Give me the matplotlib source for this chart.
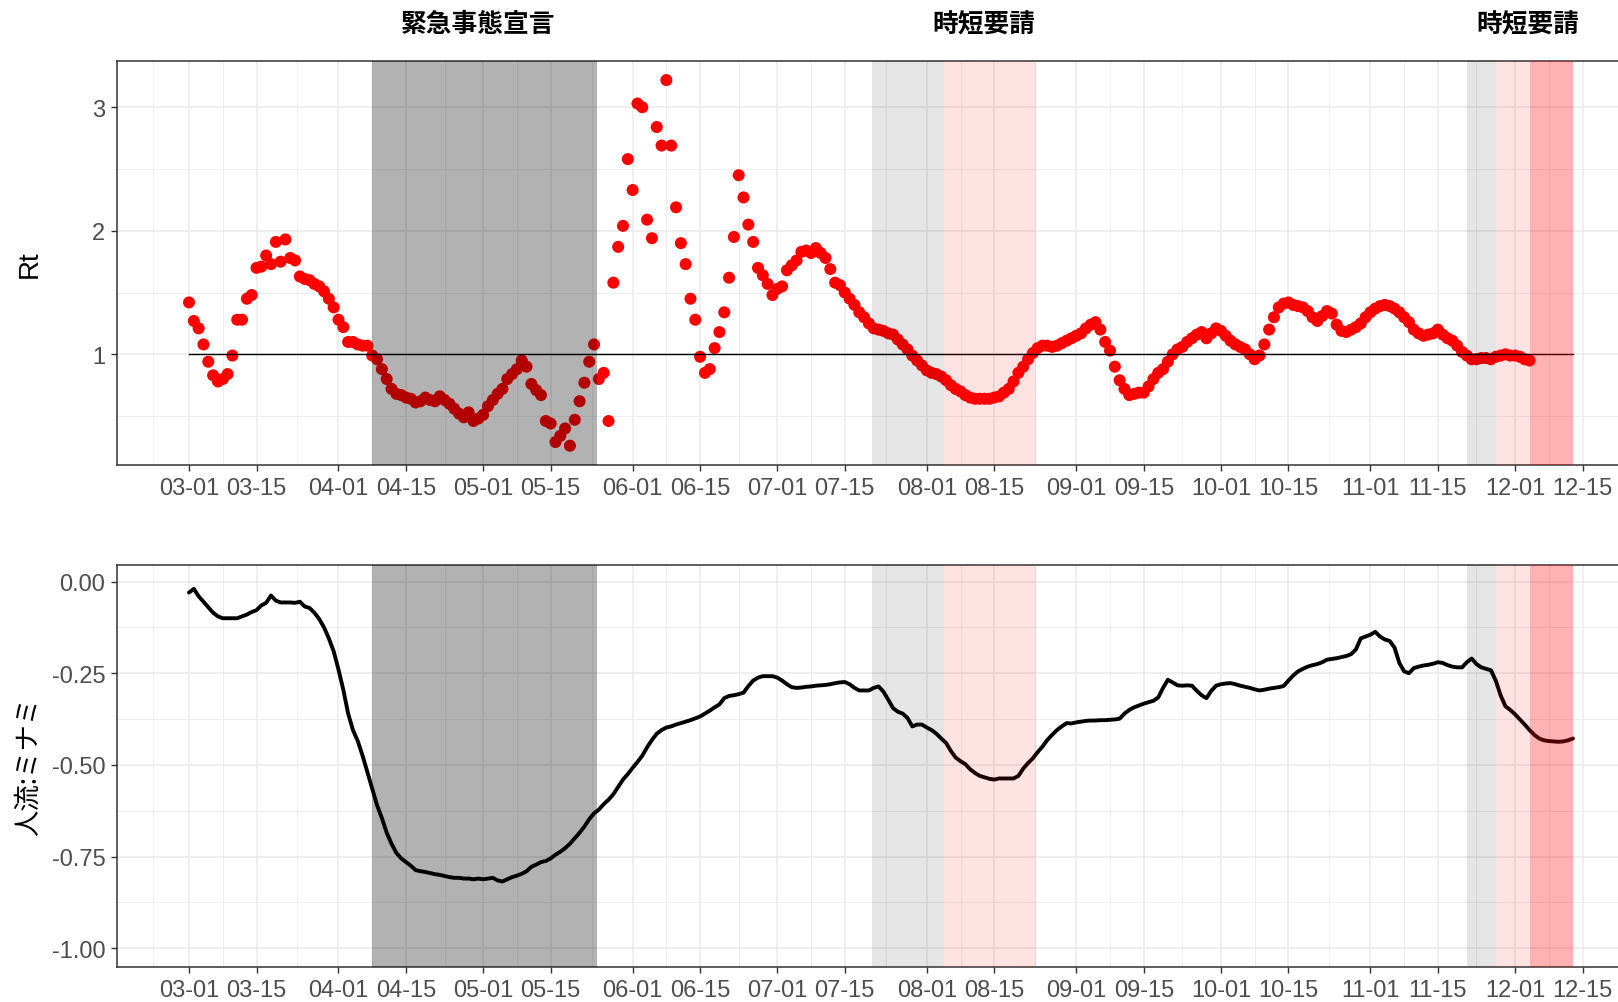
import numpy as np
import pandas as pd
import matplotlib
matplotlib.use("Agg")
import matplotlib.pyplot as plt
import matplotlib.dates as mdates
from matplotlib.ticker import FixedLocator, FormatStrFormatter

plt.rcParams['font.family'] = ['Liberation Sans', 'Noto Sans CJK JP', 'DejaVu Sans']
plt.rcParams['axes.unicode_minus'] = False

# daily series, first day 2020-03-01
start = "2020-03-01"

rt = [
    1.42, 1.27, 1.21, 1.08, 0.94, 0.83, 0.78, 0.80, 0.84, 0.99,
    1.28, 1.28, 1.45, 1.48, 1.70, 1.71, 1.80, 1.73, 1.91, 1.75,
    1.93, 1.78, 1.76, 1.63, 1.61, 1.60, 1.57, 1.55, 1.51, 1.45,
    1.38, 1.28, 1.22, 1.10, 1.10, 1.08, 1.07, 1.07, 0.99, 0.96,
    0.88, 0.80, 0.72, 0.68, 0.67, 0.65, 0.64, 0.61, 0.62, 0.65,
    0.63, 0.62, 0.66, 0.63, 0.60, 0.56, 0.52, 0.49, 0.53, 0.46,
    0.48, 0.51, 0.58, 0.63, 0.68, 0.72, 0.80, 0.84, 0.88, 0.95,
    0.90, 0.76, 0.71, 0.67, 0.46, 0.44, 0.29, 0.34, 0.40, 0.26,
    0.47, 0.62, 0.77, 0.94, 1.08, 0.80, 0.85, 0.46, 1.58, 1.87,
    2.04, 2.58, 2.33, 3.03, 3.00, 2.09, 1.94, 2.84, 2.69, 3.22,
    2.69, 2.19, 1.90, 1.73, 1.45, 1.28, 0.98, 0.85, 0.88, 1.05,
    1.18, 1.34, 1.62, 1.95, 2.45, 2.27, 2.05, 1.91, 1.70, 1.64,
    1.57, 1.48, 1.53, 1.55, 1.68, 1.72, 1.76, 1.83, 1.84, 1.82,
    1.86, 1.82, 1.78, 1.69, 1.58, 1.56, 1.50, 1.45, 1.40, 1.34,
    1.30, 1.25, 1.21, 1.20, 1.19, 1.17, 1.16, 1.12, 1.08, 1.04,
    0.99, 0.95, 0.91, 0.87, 0.85, 0.84, 0.82, 0.79, 0.75, 0.72,
    0.70, 0.67, 0.65, 0.64, 0.64, 0.64, 0.64, 0.65, 0.66, 0.69,
    0.72, 0.78, 0.85, 0.90, 0.96, 1.01, 1.05, 1.07, 1.07, 1.06,
    1.07, 1.09, 1.11, 1.13, 1.15, 1.17, 1.21, 1.24, 1.26, 1.20,
    1.10, 1.03, 0.90, 0.79, 0.72, 0.67, 0.68, 0.69, 0.69, 0.74,
    0.80, 0.85, 0.88, 0.94, 1.00, 1.04, 1.06, 1.10, 1.13, 1.16,
    1.18, 1.13, 1.17, 1.21, 1.19, 1.15, 1.11, 1.08, 1.06, 1.04,
    1.00, 0.96, 0.99, 1.08, 1.20, 1.30, 1.38, 1.41, 1.42, 1.40,
    1.39, 1.38, 1.35, 1.30, 1.27, 1.31, 1.35, 1.33, 1.24, 1.19,
    1.18, 1.20, 1.22, 1.25, 1.30, 1.34, 1.37, 1.39, 1.40, 1.39,
    1.37, 1.34, 1.30, 1.26, 1.20, 1.17, 1.15, 1.16, 1.17, 1.20,
    1.16, 1.13, 1.11, 1.07, 1.02, 0.99, 0.96, 0.96, 0.97, 0.97,
    0.96, 0.98, 0.99, 1.00, 0.99, 0.99, 0.98, 0.96, 0.95,
]

mobility = [
    -0.030, -0.020, -0.040, -0.055, -0.070, -0.085, -0.095, -0.100, -0.100, -0.100,
    -0.100, -0.095, -0.090, -0.083, -0.078, -0.065, -0.058, -0.038, -0.052, -0.057,
    -0.057, -0.057, -0.058, -0.055, -0.068, -0.072, -0.085, -0.102, -0.125, -0.155,
    -0.190, -0.240, -0.295, -0.360, -0.405, -0.435, -0.475, -0.520, -0.565, -0.610,
    -0.645, -0.685, -0.715, -0.740, -0.755, -0.765, -0.775, -0.787, -0.790, -0.792,
    -0.795, -0.798, -0.800, -0.803, -0.806, -0.808, -0.808, -0.810, -0.810, -0.812,
    -0.810, -0.812, -0.810, -0.808, -0.815, -0.818, -0.812, -0.806, -0.802, -0.797,
    -0.790, -0.778, -0.772, -0.765, -0.762, -0.755, -0.745, -0.737, -0.727, -0.715,
    -0.700, -0.685, -0.668, -0.648, -0.632, -0.622, -0.607, -0.595, -0.580, -0.560,
    -0.540, -0.525, -0.508, -0.492, -0.475, -0.452, -0.432, -0.415, -0.405, -0.398,
    -0.395, -0.390, -0.386, -0.382, -0.378, -0.373, -0.368, -0.360, -0.352, -0.343,
    -0.335, -0.318, -0.312, -0.310, -0.307, -0.303, -0.285, -0.270, -0.262, -0.258,
    -0.258, -0.258, -0.262, -0.270, -0.280, -0.288, -0.290, -0.289, -0.287, -0.286,
    -0.284, -0.283, -0.282, -0.280, -0.277, -0.275, -0.274, -0.280, -0.290, -0.297,
    -0.297, -0.297, -0.290, -0.286, -0.300, -0.322, -0.345, -0.355, -0.360, -0.372,
    -0.395, -0.390, -0.390, -0.398, -0.405, -0.415, -0.428, -0.440, -0.462, -0.480,
    -0.490, -0.498, -0.512, -0.522, -0.530, -0.534, -0.538, -0.540, -0.537, -0.537,
    -0.537, -0.537, -0.530, -0.510, -0.495, -0.482, -0.465, -0.450, -0.432, -0.418,
    -0.405, -0.395, -0.386, -0.387, -0.384, -0.382, -0.380, -0.379, -0.379, -0.378,
    -0.378, -0.377, -0.376, -0.374, -0.360, -0.350, -0.343, -0.338, -0.333, -0.329,
    -0.325, -0.316, -0.290, -0.268, -0.275, -0.283, -0.284, -0.283, -0.284, -0.298,
    -0.310, -0.318, -0.298, -0.284, -0.280, -0.278, -0.277, -0.280, -0.284, -0.287,
    -0.290, -0.294, -0.297, -0.295, -0.292, -0.290, -0.288, -0.285, -0.270, -0.256,
    -0.245, -0.238, -0.232, -0.228, -0.225, -0.220, -0.213, -0.211, -0.209, -0.206,
    -0.203, -0.198, -0.185, -0.155, -0.150, -0.145, -0.137, -0.150, -0.158, -0.162,
    -0.180, -0.222, -0.245, -0.250, -0.236, -0.232, -0.229, -0.227, -0.224, -0.220,
    -0.222, -0.228, -0.232, -0.234, -0.234, -0.220, -0.210, -0.225, -0.234, -0.238,
    -0.242, -0.270, -0.310, -0.340, -0.350, -0.362, -0.376, -0.390, -0.405, -0.418,
    -0.428, -0.433, -0.435, -0.436, -0.437, -0.436, -0.433, -0.428,
]

# shaded periods in days after start: (from, to, colour, alpha)
periods = [
    (37.9, 84.55, 'black', 0.3),
    (141.7, 156.6, 'black', 0.1),
    (156.6, 175.6, 'red', 0.11),
    (265.0, 271.0, 'black', 0.1),
    (271.0, 278.0, 'red', 0.11),
    (278.0, 287.1, 'red', 0.3),
]

# labels above the top panel, placed by day offset
headers = ["緊急事態宣言", "時短要請", "時短要請"]
header_days = [59.9, 164.8, 277.7]

rt_ticks = [1, 2, 3]
mob_ticks = [0.0, -0.25, -0.5, -0.75, -1.0]

t0 = mdates.date2num(pd.Timestamp(start))
x_rt = t0 + np.arange(len(rt))
x_mob = t0 + np.arange(len(mobility))

# date breaks on the 1st and 15th, minor grid halfway between
breaks = [d for d in pd.date_range("2020-02-01", "2021-01-01") if d.day in (1, 15)]
breaks_num = mdates.date2num(breaks)
minor_num = (breaks_num[:-1] + breaks_num[1:]) / 2
major_num = breaks_num[breaks_num <= mdates.date2num(pd.Timestamp("2020-12-15"))]

fig = plt.figure(figsize=(16.18, 10.03), dpi=100)
W = 1618.0
H = 1003.0
px_day = 4.822
left_px = 117.3
xlim = (t0 - 14.87, t0 + 312)
width = (xlim[1] - xlim[0]) * px_day / W

ax1 = fig.add_axes([left_px / W, (H - 466) / H, width, (466 - 62.3) / H])
ax2 = fig.add_axes([left_px / W, (H - 968.3) / H, width, (968.3 - 565.7) / H])

grid_col = '#ebebeb'
for ax in (ax1, ax2):
    ax.set_xlim(xlim)
    ax.xaxis.set_major_locator(FixedLocator(major_num))
    ax.xaxis.set_minor_locator(FixedLocator(minor_num))
    ax.xaxis.set_major_formatter(mdates.DateFormatter('%m-%d'))
    ax.set_axisbelow(True)
    ax.grid(which='major', color=grid_col, linewidth=1.1)
    ax.grid(which='minor', color=grid_col, linewidth=0.6)
    ax.tick_params(which='major', length=4, width=1.0, color='#333333',
                   labelcolor='#4d4d4d', labelsize=17)
    ax.tick_params(axis='x', pad=4.5)
    ax.tick_params(axis='y', pad=4.5)
    ax.tick_params(which='minor', length=0)
    for s in ax.spines.values():
        s.set_color('#333333')
        s.set_linewidth(1.1)
    for a, b, c, al in periods:
        ax.axvspan(t0 + a, t0 + b, color=c, alpha=al, lw=0, zorder=3)

# top panel: Rt
ax1.scatter(x_rt, rt, s=75, color='red', edgecolors='none', zorder=2)
ax1.plot([x_mob[0], x_mob[-1]], [1, 1], color='black', lw=1.0, zorder=2.5)
ax1.set_ylim(0.104, 3.372)
ax1.yaxis.set_major_locator(FixedLocator(rt_ticks))
ax1.yaxis.set_minor_locator(FixedLocator([0.5, 1.5, 2.5]))
ax1.yaxis.set_major_formatter(FormatStrFormatter('%d'))

for txt, d in zip(headers, header_days):
    ax1.text(t0 + d, 1.0924, txt, transform=ax1.get_xaxis_transform(),
             ha='center', va='center', fontsize=18.5, fontweight='bold',
             family=['Noto Sans CJK JP', 'DejaVu Sans'])

# bottom panel: mobility
ax2.plot(x_mob, mobility, color='black', lw=2.8, zorder=2,
         solid_joinstyle='round', solid_capstyle='round')
ax2.set_ylim(-1.052, 0.046)
ax2.yaxis.set_major_locator(FixedLocator(mob_ticks))
ax2.yaxis.set_minor_locator(FixedLocator([-0.125, -0.375, -0.625, -0.875]))
ax2.yaxis.set_major_formatter(FormatStrFormatter('%.2f'))

fig.text(29.3 / W, 1 - 264 / H, "Rt", rotation=90, ha='center', va='center',
         fontsize=20, color='black')
fig.text(28.3 / W, 1 - 766 / H, "人流:ミナミ", rotation=90, ha='center', va='center',
         fontsize=19, color='black', family=['Noto Sans CJK JP', 'DejaVu Sans'])

fig.savefig("out.png", dpi=100)
